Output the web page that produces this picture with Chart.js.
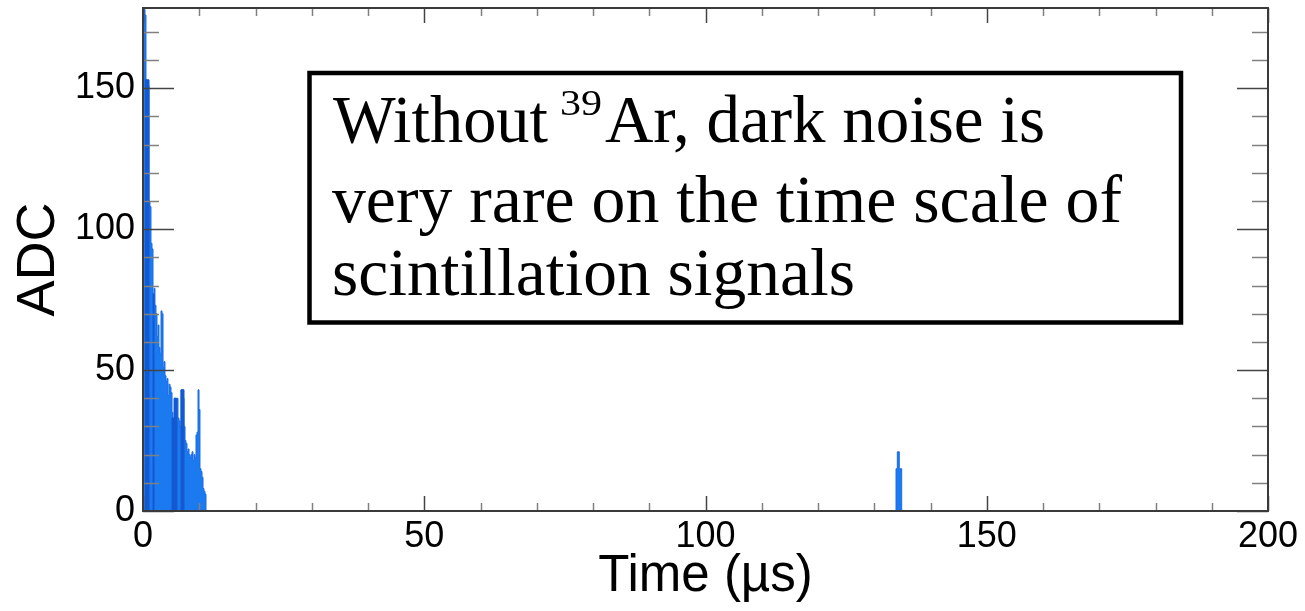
<!DOCTYPE html>
<html><head><meta charset="utf-8">
<script src="https://cdn.jsdelivr.net/npm/chart.js@4.4.1/dist/chart.umd.min.js"></script>
<style>html,body{margin:0;padding:0;background:#fff;overflow:hidden}canvas{display:block}</style>
</head><body>
<canvas id="c" width="1305" height="611"></canvas>
<script>
// ---- data ----
const pulseTimes = [0.00,0.18,0.36,0.53,0.71,0.89,1.07,1.24,1.42,1.60,1.78,1.96,2.13,2.31,2.49,2.67,2.84,3.02,3.20,3.38,3.56,3.73,3.91,4.09,4.27,4.44,4.62,4.80,4.98,5.16,5.33,5.51,5.69,5.87,6.04,6.22,6.40,6.58,6.76,6.93,7.11,7.29,7.47,7.64,7.82,8.00,8.18,8.36,8.53,8.71,8.89,9.07,9.24,9.42,9.60,9.78,9.96,10.13,10.31,10.49,10.67,10.84,11.02,11.20,
  133.87,134.10,134.45,134.88,200.00];
const pulseADC = [178,178,176,153,152,151,110,108,95,93,77,79,73,70,62,66,58,56,71,70,51,53,48,46,47,41,45,44,42,35,31,40,40,38,40,33,32,30,43,43,40,30,25,24,21,22,20,19,20,21,18,20,19,27,28,43,36,15,14,12,8,7,6,0,
  15,21,15,0,0];
const darkTimes = [0.36,1.07,1.78,1.96,5.16,5.51,5.60,6.04,6.76,7.29];
const darkADC   = [153,0,77,0,33,0,40,0,43,0];
const xTicks = [0,50,100,150,200];
const yTicks = [0,50,100,150];
const xMinorTicks = [0,10,20,30,40,50,60,70,80,90,100,110,120,130,140,150,160,170,180,190,200];
const yMinorTicks = [0,10,20,30,40,50,60,70,80,90,100,110,120,130,140,150,160,170];
const xTitle = 'Time (µs)';
const yTitle = 'ADC';
const noteLine1a = 'Without';
const noteSup = '39';
const noteLine1b = 'Ar, dark noise is';
const noteLine2 = 'very rare on the time scale of';
const noteLine3 = 'scintillation signals';

const SANS = '"Liberation Sans", Arial, Helvetica, sans-serif';
const SERIF = '"Liberation Serif", "DejaVu Serif", serif';

const toXY = (ts, vs) => ts.map((t, i) => ({x: t, y: vs[i]}));

const framePlugin = {
  id: 'frameAndNote',
  afterDatasetsDraw(chart) {
    const ctx = chart.ctx;
    const xs = chart.scales.x, ys = chart.scales.y;
    const L = chart.chartArea.left, R = chart.chartArea.right, T = chart.chartArea.top, B = chart.chartArea.bottom;
    ctx.save();
    ctx.lineCap = 'butt';
    yMinorTicks.forEach(v => {
      const y = Math.round(ys.getPixelForValue(v)) + 0.5;
      const major = yTicks.includes(v);
      const len = major ? 31 : 16;
      ctx.strokeStyle = major ? '#444' : '#808080';
      ctx.lineWidth = 1.5;
      ctx.beginPath(); ctx.moveTo(L, y); ctx.lineTo(L + len, y); ctx.stroke();
      ctx.beginPath(); ctx.moveTo(R, y); ctx.lineTo(R - len, y); ctx.stroke();
    });
    xMinorTicks.forEach(v => {
      const x = Math.round(xs.getPixelForValue(v)) + 0.5;
      const major = xTicks.includes(v);
      const len = major ? 15 : 8;
      ctx.strokeStyle = major ? '#444' : '#808080';
      ctx.lineWidth = 1.5;
      ctx.beginPath(); ctx.moveTo(x, B); ctx.lineTo(x, B - len); ctx.stroke();
      ctx.beginPath(); ctx.moveTo(x, T); ctx.lineTo(x, T + len); ctx.stroke();
    });
    ctx.strokeStyle = '#3a3a3a';
    ctx.lineWidth = 2;
    ctx.strokeRect(L, T, R - L, B - T);

    // annotation box
    ctx.fillStyle = '#fff';
    ctx.fillRect(309.5, 73, 871.5, 249.5);
    ctx.strokeStyle = '#000';
    ctx.lineWidth = 4.5;
    ctx.strokeRect(309.5, 73, 871.5, 249.5);
    ctx.fillStyle = '#000';
    ctx.textBaseline = 'alphabetic';
    ctx.textAlign = 'left';
    const fitText = (txt, x, y, w, font) => {
      ctx.font = font;
      const m = ctx.measureText(txt).width;
      ctx.save(); ctx.translate(x, y); ctx.scale(w / m, 1); ctx.fillText(txt, 0, 0); ctx.restore();
    };
    const big = '67px ' + SERIF;
    fitText(noteLine1a, 333, 142, 215, big);
    fitText(noteSup, 560, 115, 42, '36px ' + SERIF);
    fitText(noteLine1b, 605, 142, 440, big);
    fitText(noteLine2, 332, 222, 790, big);
    fitText(noteLine3, 332, 295, 523, big);
    ctx.restore();
  }
};

new Chart(document.getElementById('c'), {
  type: 'line',
  data: {
    datasets: [
      {
        label: 'dark',
        data: toXY(darkTimes, darkADC),
        stepped: true,
        fill: 'origin',
        backgroundColor: '#1459d2',
        borderColor: '#1459d2',
        borderWidth: 1,
        pointRadius: 0,
        order: 0
      },
      {
        label: 'waveform',
        data: toXY(pulseTimes, pulseADC),
        stepped: true,
        fill: 'origin',
        backgroundColor: '#1b7af0',
        borderColor: '#1a6de6',
        borderWidth: 1,
        pointRadius: 0,
        order: 1
      }
    ]
  },
  options: {
    responsive: false,
    animation: false,
    devicePixelRatio: 1,
    layout: {padding: {left: 0, top: 8, right: 37, bottom: 0}},
    plugins: {legend: {display: false}, tooltip: {enabled: false}},
    scales: {
      x: {
        type: 'linear', min: 0, max: 200,
        afterBuildTicks: s => { s.ticks = xTicks.map(v => ({value: v})); },
        afterFit: s => { s.height = 100; s.paddingLeft = 0; s.paddingRight = 0; },
        ticks: {font: {family: SANS, size: 36}, color: '#000', padding: 4, maxRotation: 0, autoSkip: false},
        grid: {display: false, drawTicks: false},
        border: {display: false},
        title: {display: true, text: xTitle, color: '#000', font: {family: SANS, size: 51, lineHeight: 1}, padding: {top: 0, bottom: 9}}
      },
      y: {
        type: 'linear', min: 0, max: 178.5,
        afterBuildTicks: s => { s.ticks = yTicks.map(v => ({value: v})); },
        afterFit: s => { s.width = 143; s.paddingTop = 0; s.paddingBottom = 0; },
        ticks: {font: {family: SANS, size: 36}, color: '#000', padding: 8, autoSkip: false},
        grid: {display: false, drawTicks: false},
        border: {display: false},
        title: {display: true, text: yTitle, color: '#000', font: {family: SANS, size: 54, lineHeight: 1}, padding: {top: 12, bottom: 0}}
      }
    }
  },
  plugins: [framePlugin]
});
</script>
</body></html>
